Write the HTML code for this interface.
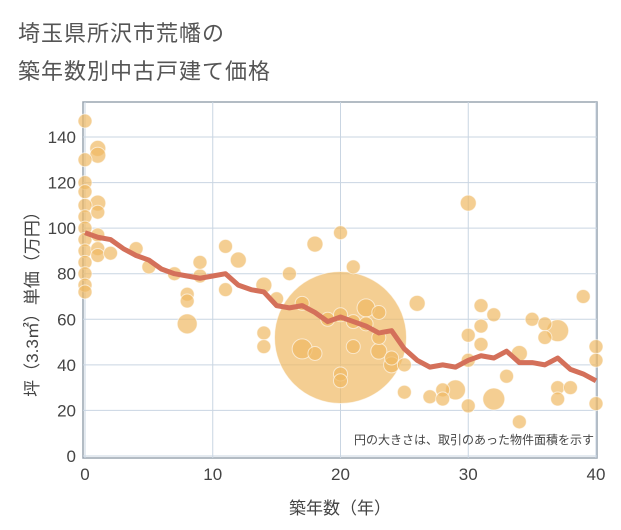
<!DOCTYPE html>
<html><head><meta charset="utf-8"><style>
body{margin:0;background:#fff;font-family:"Liberation Sans","Noto Sans CJK JP",sans-serif}
#wrap{position:relative;width:621px;height:530px;background:#fff}
.ttl{position:absolute;left:18px;font-size:22px;color:#555;letter-spacing:1px}
</style></head><body>
<div id="wrap">
<div class="ttl" style="top:16px">埼玉県所沢市荒幡の</div>
<div class="ttl" style="top:54px">築年数別中古戸建て価格</div>
<svg id="svg" width="621" height="530" style="position:absolute;left:0;top:0"></svg>
</div>
<script>
const xTicks=[0,10,20,30,40];
const yTicks=[0,20,40,60,80,100,120,140];
const lineAges=[0,1,2,3,4,5,6,7,8,9,10,11,12,13,14,15,16,17,18,19,20,21,22,23,24,25,26,27,28,29,30,31,32,33,34,35,36,37,38,39,40];
const linePrices=[98,96,95,91,88,86,82,80,79,78,79,80,75,73,72,66,65,66,63,59,61,59,57,54,55,47,42,39,40,39,42,44,43,46,41,41,40,43,38,36,33];
const ptAges=[
0,0,0,0,0,0,0,0,0,0,0,0,0,
1,1,1,1,1,1,1,
2,4,5,7,
8,8,8,
9,9,11,11,12,
14,14,14,15,16,17,17,18,18,19,
20,20,20,20,20,
21,21,21,22,22,23,23,23,24,24,25,25,26,27,28,28,29,
30,30,30,30,31,31,31,32,32,33,34,34,35,36,36,37,37,37,38,39,40,40,40];
const ptPrices=[
147,130,120,116,110,105,100,95,90,85,80,75,72,
135,132,111,107,97,91,88,
89,91,83,80,
71,68,58,
79,85,92,73,86,
75,54,48,69,80,67,47,93,45,60,
52,98,62,36,33,
83,48,59,65,58,46,52,63,40,43,40,28,67,26,29,25,29,
111,53,42,22,66,57,49,62,25,35,45,15,60,58,52,30,25,55,30,70,48,42,23];
const ptSizes=[
7,7,7,7,7,7,7,7,7,7,7,7,7,
8,8,8,7,7,7,7,
7,7,7,7,
7,7,10,
7,7,7,7,8,
8,7,7,7,7,7,10,8,7,7,
66,7,7,7,7,
7,7,7,9,7,8,7,7,8,7,7,7,8,7,7,7,10,
8,7,7,7,7,7,7,7,11,7,8,7,7,7,7,7,7,11,7,7,7,7,7];
const NS='http://www.w3.org/2000/svg';
const svg=document.getElementById('svg');
const L=85,R=596,T=102,B=456;
const xs=v=>L+(v-0)/40*(R-L);
const ys=v=>B-v/140*(B-137);
function mk(t,a,p){const e=document.createElementNS(NS,t);for(const k in a)e.setAttribute(k,a[k]);(p||svg).appendChild(e);return e;}
let bg=mk('rect',{x:83,y:T,width:514,height:356,fill:'#fff',stroke:'#9aa5b1','stroke-width':1.5});


yTicks.forEach(v=>{
 let g=mk('line',{x1:83,x2:597,y1:ys(v),y2:ys(v),stroke:'#c9d5e2','stroke-width':1});
 
 
 let t=mk('text',{x:76,y:ys(v)+6,'text-anchor':'end','font-size':17,fill:'#444'});
 t.textContent=v;
 
 
});
xTicks.forEach(v=>{
 let g=mk('line',{x1:xs(v),x2:xs(v),y1:T,y2:458,stroke:'#c9d5e2','stroke-width':1});
 
 
 let t=mk('text',{x:xs(v),y:480,'text-anchor':'middle','font-size':17,fill:'#444'});
 t.textContent=v;
 
 
});
const pg=mk('g',{});


const order=ptAges.map((a,i)=>i).sort((a,b)=>ptSizes[b]-ptSizes[a]);
order.forEach(i=>{
 let c=mk('circle',{cx:xs(ptAges[i]),cy:ys(ptPrices[i]),r:ptSizes[i],fill:'rgba(240,185,100,0.7)',stroke:'rgba(255,255,255,0.6)','stroke-width':1},pg);
 
 
});
let pl=mk('polyline',{points:lineAges.map((a,i)=>xs(a)+','+ys(linePrices[i])).join(' '),fill:'none',stroke:'#d4705a','stroke-width':5,'stroke-linejoin':'round'});


let n=mk('text',{x:594,y:444,'text-anchor':'end','font-size':12,fill:'#444'});
n.textContent='円の大きさは、取引のあった物件面積を示す';


let xt=mk('text',{x:340,y:514,'text-anchor':'middle','font-size':17,fill:'#444'});
xt.textContent='築年数（年）';


let yt=mk('text',{x:0,y:0,'text-anchor':'middle','font-size':17,fill:'#444',transform:'translate(38,300) rotate(-90)'});
yt.textContent='坪（3.3㎡）単価（万円）';


</script>
</body></html>
